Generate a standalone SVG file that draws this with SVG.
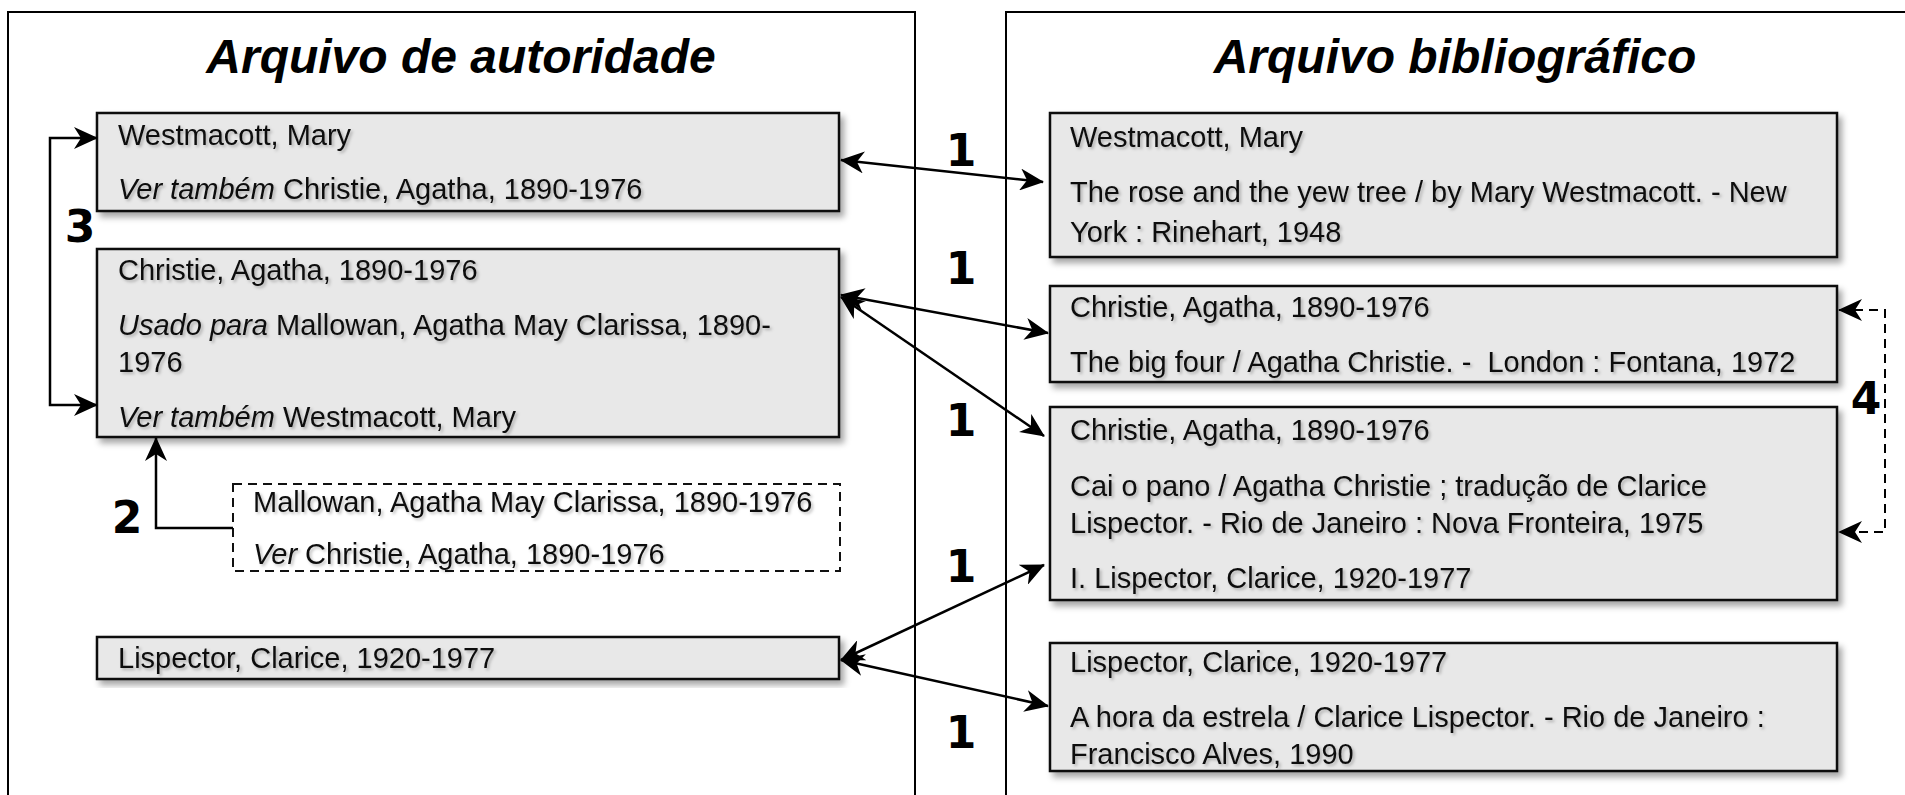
<svg xmlns="http://www.w3.org/2000/svg" width="1905" height="795" viewBox="0 0 1905 795">
  <defs>
    <filter id="boxShadow" x="-5%" y="-10%" width="115%" height="130%">
      <feDropShadow dx="4" dy="5" stdDeviation="3" flood-color="#000" flood-opacity="0.35"/>
    </filter>
    <filter id="textShadow" x="-5%" y="-30%" width="110%" height="160%">
      <feDropShadow dx="2" dy="2" stdDeviation="1.5" flood-color="#000" flood-opacity="0.25"/>
    </filter>
    <marker id="ah" viewBox="0 0 24 22" refX="23" refY="11" markerWidth="24" markerHeight="22" markerUnits="userSpaceOnUse" orient="auto-start-reverse">
      <path d="M0,0 L24,11 L0,22 L7,11 Z" fill="#000"/>
    </marker>
  </defs>
  <style>
    .panel { fill: none; stroke: #000; stroke-width: 2; }
    .title { font-family: "Liberation Sans", Arial, sans-serif; font-weight: bold; font-style: italic; font-size: 48px; fill: #000; text-anchor: middle; }
    .box { fill: #e8e8e8; stroke: #111; stroke-width: 2.5; filter: url(#boxShadow); }
    .dbox { fill: #fff; stroke: #111; stroke-width: 2; stroke-dasharray: 9 6; }
    .t { font-family: "Liberation Sans", Arial, sans-serif; font-size: 29px; fill: #111; filter: url(#textShadow); white-space: pre; }
    .it { font-style: italic; }
    .num { font-family: "DejaVu Sans", "Liberation Sans", sans-serif; font-weight: bold; font-size: 44px; fill: #000; text-anchor: middle; }
    .con { fill: none; stroke: #000; stroke-width: 2.5; marker-end: url(#ah); }
    .both { marker-start: url(#ah); }
    .dash { stroke-dasharray: 9 6; stroke-width: 2; }
  </style>
  <rect width="1905" height="795" fill="#fff"/>

  <g id="panels">
    <rect class="panel" x="8" y="12" width="907" height="820"/>
    <rect class="panel" x="1006" y="12" width="1000" height="820"/>
    <text class="title" x="461" y="73">Arquivo de autoridade</text>
    <text class="title" x="1455" y="73">Arquivo bibliográfico</text>
  </g>

  <g id="auth-westmacott">
    <rect class="box" x="97" y="113" width="742" height="98"/>
    <text class="t" x="118" y="145">Westmacott, Mary</text>
    <text class="t" x="118" y="199"><tspan class="it">Ver também</tspan> Christie, Agatha, 1890-1976</text>
  </g>

  <g id="auth-christie">
    <rect class="box" x="97" y="249" width="742" height="188"/>
    <text class="t" x="118" y="280">Christie, Agatha, 1890-1976</text>
    <text class="t" x="118" y="335"><tspan class="it">Usado para</tspan> Mallowan, Agatha May Clarissa, 1890-</text>
    <text class="t" x="118" y="372">1976</text>
    <text class="t" x="118" y="427"><tspan class="it">Ver também</tspan> Westmacott, Mary</text>
  </g>

  <g id="auth-mallowan">
    <rect class="dbox" x="233" y="484" width="607" height="87"/>
    <text class="t" x="253" y="512">Mallowan, Agatha May Clarissa, 1890-1976</text>
    <text class="t" x="253" y="564"><tspan class="it">Ver</tspan> Christie, Agatha, 1890-1976</text>
  </g>

  <g id="auth-lispector">
    <rect class="box" x="97" y="637" width="742" height="42"/>
    <text class="t" x="118" y="668">Lispector, Clarice, 1920-1977</text>
  </g>

  <g id="bib-westmacott">
    <rect class="box" x="1050" y="113" width="787" height="144"/>
    <text class="t" x="1070" y="147">Westmacott, Mary</text>
    <text class="t" x="1070" y="202">The rose and the yew tree / by Mary Westmacott. - New</text>
    <text class="t" x="1070" y="242">York : Rinehart, 1948</text>
  </g>

  <g id="bib-bigfour">
    <rect class="box" x="1050" y="286" width="787" height="96"/>
    <text class="t" x="1070" y="317">Christie, Agatha, 1890-1976</text>
    <text class="t" x="1070" y="372">The big four / Agatha Christie. -  London : Fontana, 1972</text>
  </g>

  <g id="bib-caiopano">
    <rect class="box" x="1050" y="407" width="787" height="193"/>
    <text class="t" x="1070" y="440">Christie, Agatha, 1890-1976</text>
    <text class="t" x="1070" y="496">Cai o pano / Agatha Christie ; tradução de Clarice</text>
    <text class="t" x="1070" y="533">Lispector. - Rio de Janeiro : Nova Fronteira, 1975</text>
    <text class="t" x="1070" y="588">I. Lispector, Clarice, 1920-1977</text>
  </g>

  <g id="bib-horaestrela">
    <rect class="box" x="1050" y="643" width="787" height="128"/>
    <text class="t" x="1070" y="672">Lispector, Clarice, 1920-1977</text>
    <text class="t" x="1070" y="727">A hora da estrela / Clarice Lispector. - Rio de Janeiro :</text>
    <text class="t" x="1070" y="764">Francisco Alves, 1990</text>
  </g>

  <g id="connectors">
    <path class="con both" d="M841,160 L1043,182"/>
    <path class="con both" d="M841,295 L1048,333"/>
    <path class="con both" d="M841,297 L1044,436"/>
    <path class="con both" d="M841,660 L1044,565"/>
    <path class="con both" d="M841,660 L1048,706"/>
    <path class="con both" d="M97,138 H50 V405 H97"/>
    <path class="con" d="M233,528 H156 V438"/>
    <path class="con both dash" d="M1839,310 H1885 V532 H1839"/>
  </g>

  <g id="labels">
    <text class="num" x="80" y="242">3</text>
    <text class="num" x="127" y="533">2</text>
    <text class="num" x="961" y="166">1</text>
    <text class="num" x="961" y="284">1</text>
    <text class="num" x="961" y="436">1</text>
    <text class="num" x="961" y="582">1</text>
    <text class="num" x="961" y="748">1</text>
    <text class="num" x="1866" y="414">4</text>
  </g>
</svg>
